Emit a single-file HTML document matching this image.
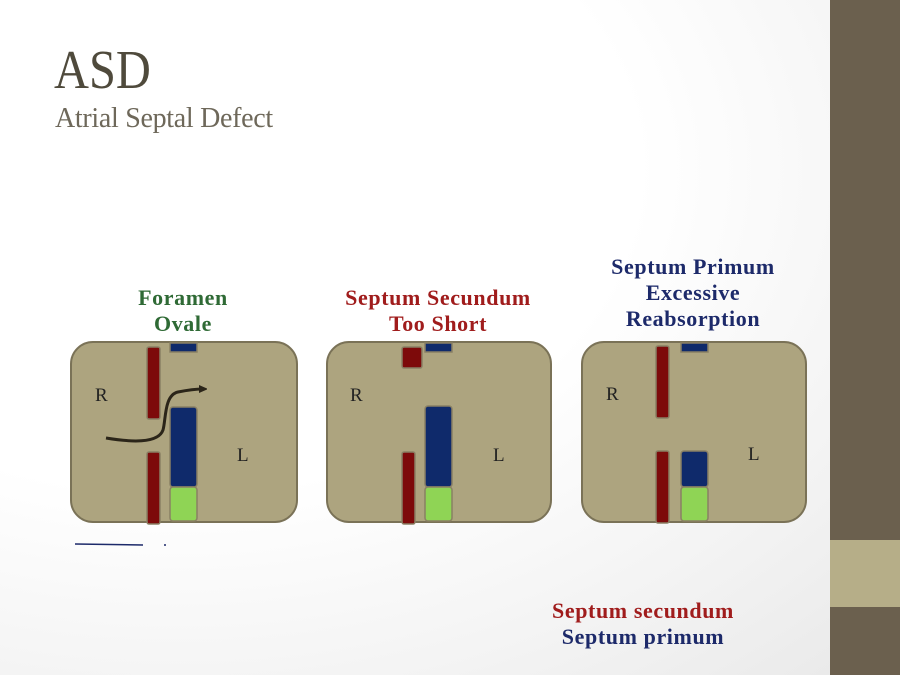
<!DOCTYPE html>
<html><head><style>
body{margin:0;width:900px;height:675px;overflow:hidden;position:relative;font-family:"Liberation Serif",serif;
background:radial-gradient(ellipse at 20% 25%,#ffffff 45%,#f3f3f3 75%,#e8e8e8 100%);}
.t{position:absolute;white-space:nowrap;}
.lab{position:absolute;font-weight:bold;font-size:22px;text-align:center;line-height:26px;letter-spacing:0.6px;white-space:nowrap;}
</style></head><body>
<div class="t" style="left:54px;top:40px;font-size:55px;color:#4f4a3c;line-height:60px;transform:scaleX(0.88);transform-origin:left;">ASD</div>
<div class="t" style="left:55px;top:103px;font-size:28px;color:#6e685a;line-height:32px;letter-spacing:-0.3px;">Atrial Septal Defect</div>

<div class="lab" style="left:83px;width:200px;top:285px;color:#2f6a35;">Foramen<br>Ovale</div>
<div class="lab" style="left:318px;width:240px;top:285px;color:#a01c1c;">Septum Secundum<br>Too Short</div>
<div class="lab" style="left:573px;width:240px;top:254px;color:#1d2a6a;">Septum Primum<br>Excessive<br>Reabsorption</div>

<div class="lab" style="left:523px;width:240px;top:598px;color:#a01c1c;">Septum secundum</div>
<div class="lab" style="left:523px;width:240px;top:624px;color:#1d2a6a;">Septum primum</div>

<div style="position:absolute;left:830px;top:0;width:70px;height:675px;background:#6b604e;"></div>
<div style="position:absolute;left:830px;top:540px;width:70px;height:67px;background:#b6ae88;"></div>

<svg width="900" height="675" style="position:absolute;left:0;top:0" font-family="Liberation Serif" font-size="19">
<defs><marker id="ah" markerWidth="8" markerHeight="8" refX="4" refY="4" orient="auto" markerUnits="userSpaceOnUse"><path d="M0,0 L9,4 L0,8z" fill="#2b2519"/></marker></defs>
<g stroke="#7a7257" stroke-width="2">
<rect x="71" y="342" width="226" height="180" rx="22" fill="#ada47f"/>
<rect x="327" y="342" width="224" height="180" rx="22" fill="#ada47f"/>
<rect x="582" y="342" width="224" height="180" rx="22" fill="#ada47f"/>
</g>
<g stroke="#8a8064" stroke-width="1.5">
<rect x="147" y="347" width="13" height="72" rx="2" fill="#7d0a0a"/>
<rect x="147" y="452" width="13" height="72" rx="2" fill="#7d0a0a"/>
<rect x="170" y="343" width="27" height="9" fill="#0f2a6b"/>
<rect x="170" y="407" width="27" height="80" rx="3" fill="#0f2a6b"/>
<rect x="170" y="487" width="27" height="34" rx="3" fill="#8fd455"/>
<rect x="402" y="347" width="20" height="21" rx="2" fill="#7d0a0a"/>
<rect x="402" y="452" width="13" height="72" rx="2" fill="#7d0a0a"/>
<rect x="425" y="343" width="27" height="9" fill="#0f2a6b"/>
<rect x="425" y="406" width="27" height="81" rx="3" fill="#0f2a6b"/>
<rect x="425" y="487" width="27" height="34" rx="3" fill="#8fd455"/>
<rect x="656" y="346" width="13" height="72" rx="2" fill="#7d0a0a"/>
<rect x="656" y="451" width="13" height="72" rx="2" fill="#7d0a0a"/>
<rect x="681" y="343" width="27" height="9" fill="#0f2a6b"/>
<rect x="681" y="451" width="27" height="36" rx="3" fill="#0f2a6b"/>
<rect x="681" y="487" width="27" height="34" rx="3" fill="#8fd455"/>
</g>
<path d="M106,438 C130,442 158,444 163,430 C166,420 164,395 178,392 C188,390 196,389 203,389" fill="none" stroke="#2b2519" stroke-width="3" marker-end="url(#ah)"/>
<text x="95" y="401" fill="#222">R</text><text x="237" y="461" fill="#222">L</text>
<text x="350" y="401" fill="#222">R</text><text x="493" y="461" fill="#222">L</text>
<text x="606" y="400" fill="#222">R</text><text x="748" y="460" fill="#222">L</text>
<line x1="75" y1="544" x2="143" y2="545" stroke="#1d2a6a" stroke-width="1.5"/>
<circle cx="165" cy="545" r="1" fill="#1d2a6a"/>
</svg>
</body></html>
